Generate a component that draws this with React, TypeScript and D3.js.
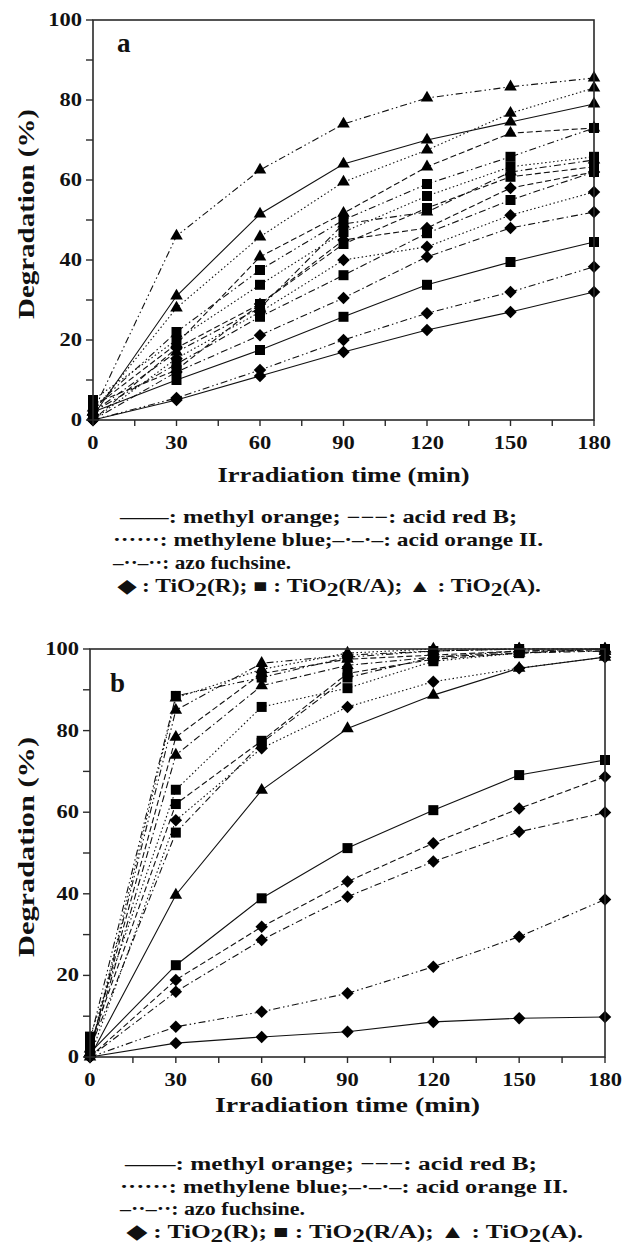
import React from "react";
import * as d3 from "d3";

// ---------- data ----------
const times = [0, 30, 60, 90, 120, 150, 180];
const xTicksMajor = [0, 30, 60, 90, 120, 150, 180];
const xTicksAll = [0, 15, 30, 45, 60, 75, 90, 105, 120, 135, 150, 165, 180];
const yTicksMajor = [0, 20, 40, 60, 80, 100];
const yTicksAll = [0, 10, 20, 30, 40, 50, 60, 70, 80, 90, 100];
const dyes = ["methyl orange", "acid red B", "methylene blue", "acid orange II", "azo fuchsine"];
const catalysts = ["R", "R/A", "A"];

// panel a (degradation %, at times above)
const aMethylOrangeR = [0, 5, 11, 17, 22.5, 27, 32];
const aMethylOrangeRA = [2, 10, 17.5, 25.8, 33.8, 39.5, 44.5];
const aMethylOrangeA = [1, 31, 51.5, 64, 70, 74.5, 79];
const aAcidRedBR = [0, 18, 29, 45, 48, 58, 62];
const aAcidRedBRA = [4, 12.5, 29, 44, 53, 60.8, 63.3];
const aAcidRedBA = [3, 19, 40.8, 51.7, 63.3, 71.7, 73];
const aMethyleneBlueR = [0, 15.4, 27, 40, 43.3, 51.2, 57];
const aMethyleneBlueRA = [5, 20, 33.8, 47, 56, 63.3, 65.8];
const aMethyleneBlueA = [2, 28, 45.8, 59.5, 67.5, 76.7, 83];
const aAcidOrangeR = [0, 12, 21.2, 30.5, 40.8, 48, 52];
const aAcidOrangeRA = [2, 14, 25.8, 36.2, 46.7, 55, 62];
const aAcidOrangeA = [2, 17, 28, 49, 52, 62, 65];
const aAzoFuchsineR = [0, 5.5, 12.5, 20, 26.7, 32, 38.3];
const aAzoFuchsineRA = [3, 22, 37.5, 50, 59, 65.8, 73];
const aAzoFuchsineA = [2, 46, 62.5, 74, 80.5, 83.3, 85.5];

// panel b
const bMethylOrangeR = [0, 3.4, 4.9, 6.2, 8.6, 9.5, 9.8];
const bMethylOrangeRA = [1, 22.5, 38.9, 51.2, 60.5, 69.1, 72.8];
const bMethylOrangeA = [0, 39.7, 65.4, 80.5, 88.7, 95.3, 98];
const bAcidRedBR = [0, 18.9, 31.9, 43, 52.4, 60.9, 68.7];
const bAcidRedBRA = [3, 62, 77.5, 94, 97.5, 99, 100];
const bAcidRedBA = [2, 78.4, 94, 97.5, 98.5, 99.5, 99.5];
const bMethyleneBlueR = [0, 58, 75.7, 85.8, 92, 95.3, 98];
const bMethyleneBlueRA = [5, 65.5, 85.8, 90.4, 97, 99, 100];
const bMethyleneBlueA = [1, 88, 95, 99, 100, 100, 100];
const bAcidOrangeR = [0, 16, 28.7, 39.3, 47.9, 55.2, 59.9];
const bAcidOrangeRA = [2, 55, 77, 93, 98, 99.5, 100];
const bAcidOrangeA = [1, 74, 91, 96, 98, 99, 99.5];
const bAzoFuchsineR = [0, 7.4, 11.1, 15.6, 22.1, 29.5, 38.6];
const bAzoFuchsineRA = [4, 88.5, 93, 98, 99.5, 100, 100];
const bAzoFuchsineA = [1, 85, 96.5, 98.5, 99.5, 100, 100];

const panelAData = [
  [aMethylOrangeR, aMethylOrangeRA, aMethylOrangeA],
  [aAcidRedBR, aAcidRedBRA, aAcidRedBA],
  [aMethyleneBlueR, aMethyleneBlueRA, aMethyleneBlueA],
  [aAcidOrangeR, aAcidOrangeRA, aAcidOrangeA],
  [aAzoFuchsineR, aAzoFuchsineRA, aAzoFuchsineA],
];
const panelBData = [
  [bMethylOrangeR, bMethylOrangeRA, bMethylOrangeA],
  [bAcidRedBR, bAcidRedBRA, bAcidRedBA],
  [bMethyleneBlueR, bMethyleneBlueRA, bMethyleneBlueA],
  [bAcidOrangeR, bAcidOrangeRA, bAcidOrangeA],
  [bAzoFuchsineR, bAzoFuchsineRA, bAzoFuchsineA],
];

// ---------- styles ----------
const FONT = "'Liberation Serif', 'Times New Roman', serif";
const SX = 1.3;
const dashFor: Record<string, string | undefined> = {
  "methyl orange": undefined,
  "acid red B": "6,3",
  "methylene blue": "1.5,2.5",
  "acid orange II": "7,3,1.5,3",
  "azo fuchsine": "7,3,1.5,3,1.5,3",
};
const markerPath: Record<string, string> = {
  R: d3.symbol().type(d3.symbolSquare).size(78)() as string,
  "R/A": d3.symbol().type(d3.symbolSquare).size(100)() as string,
  A: d3.symbol().type(d3.symbolTriangle).size(68)() as string,
};

type Geo = { x0: number; x1: number; yTop: number; yBot: number };

function Panel({ data, geo, letter, letterPos, xTitleY, yTitleX, xTitleLen, yTitleLen }: any) {
  const g: Geo = geo;
  const x = d3.scaleLinear().domain([0, 180]).range([g.x0, g.x1]);
  const y = d3.scaleLinear().domain([0, 100]).range([g.yBot, g.yTop]);
  const line = d3
    .line<number>()
    .x((_, i) => x(times[i]))
    .y((v) => y(v));
  const axisColor = "#2a2a2a";
  return (
    <g>
      {dyes.map((dye, di) =>
        catalysts.map((cat, ci) => (
          <path
            key={`l-${di}-${ci}`}
            d={line(data[di][ci]) as string}
            fill="none"
            stroke="#111"
            strokeWidth={1.1}
            strokeDasharray={dashFor[dye]}
          />
        ))
      )}
      {dyes.map((dye, di) =>
        catalysts.map((cat, ci) =>
          data[di][ci].map((v: number, i: number) => (
            <path
              key={`m-${di}-${ci}-${i}`}
              d={markerPath[cat]}
              transform={`translate(${x(times[i])},${y(v)})${cat === "R" ? " rotate(45)" : ""}`}
              fill="#000"
            />
          ))
        )
      )}
      <rect x={g.x0} y={g.yTop} width={g.x1 - g.x0} height={g.yBot - g.yTop} fill="none" stroke={axisColor} strokeWidth={1.6} />
      {yTicksAll.map((t) => (
        <line key={`yt${t}`} x1={g.x0 - 7} x2={g.x0} y1={y(t)} y2={y(t)} stroke={axisColor} strokeWidth={1.4} />
      ))}
      {yTicksMajor.map((t) => (
        <text
          key={`yl${t}`}
          transform={`translate(${g.x0 - 11},${y(t) + 6}) scale(1.25,1)`}
          textAnchor="end"
          fontFamily={FONT}
          fontWeight="bold"
          fontSize={18}
          fill="#111"
        >
          {t}
        </text>
      ))}
      {xTicksAll.map((t) => (
        <line key={`xt${t}`} x1={x(t)} x2={x(t)} y1={g.yBot} y2={g.yBot + 6} stroke={axisColor} strokeWidth={1.4} />
      ))}
      {xTicksMajor.map((t) => (
        <text
          key={`xl${t}`}
          transform={`translate(${x(t)},${g.yBot + 29}) scale(1.25,1)`}
          textAnchor="middle"
          fontFamily={FONT}
          fontWeight="bold"
          fontSize={18}
          fill="#111"
        >
          {t}
        </text>
      ))}
      <text
        x={(g.x0 + g.x1) / 2}
        y={xTitleY}
        textAnchor="middle"
        fontFamily={FONT}
        fontWeight="bold"
        fontSize={22}
        textLength={xTitleLen}
        lengthAdjust="spacingAndGlyphs"
        fill="#111"
      >
        Irradiation time (min)
      </text>
      <text
        transform={`translate(${yTitleX},${(g.yTop + g.yBot) / 2 - 6}) rotate(-90)`}
        textAnchor="middle"
        fontFamily={FONT}
        fontWeight="bold"
        fontSize={24}
        textLength={yTitleLen}
        lengthAdjust="spacingAndGlyphs"
        fill="#111"
      >
        Degradation (%)
      </text>
      <text x={letterPos[0]} y={letterPos[1]} fontFamily={FONT} fontWeight="bold" fontSize={27} fill="#111">
        {letter}
      </text>
    </g>
  );
}

function LT({ x, y, size, len, children }: any) {
  return (
    <text
      transform={`translate(${x},${y}) scale(${SX},1)`}
      fontFamily={FONT}
      fontWeight="bold"
      fontSize={size}
      fill="#111"
      textLength={len ? len / SX : undefined}
      lengthAdjust={len ? "spacingAndGlyphs" : undefined}
    >
      {children}
    </text>
  );
}

function Legend({ xs, ys, size, lens }: any) {
  return (
    <g>
      <LT x={xs[0]} y={ys[0]} size={size} len={lens[0]}>——: methyl orange; −−−: acid red B;</LT>
      <LT x={xs[1]} y={ys[1]} size={size} len={lens[1]}>······: methylene blue;–·–·–: acid orange II.</LT>
      <LT x={xs[2]} y={ys[2]} size={size} len={lens[2]}>–··–··: azo fuchsine.</LT>
      <LT x={xs[3]} y={ys[3]} size={size} len={lens[3]}>
        <tspan>◆ : TiO</tspan>
        <tspan dy={4}>2</tspan>
        <tspan dy={-4}>(R); ■ : TiO</tspan>
        <tspan dy={4}>2</tspan>
        <tspan dy={-4}>(R/A); ▲ : TiO</tspan>
        <tspan dy={4}>2</tspan>
        <tspan dy={-4}>(A).</tspan>
      </LT>
    </g>
  );
}

export default function App() {
  return (
    <svg width={622} height={1249} style={{ position: "absolute", left: 0, top: 0, background: "#fff" }}>
      <rect x={0} y={0} width={622} height={1249} fill="#fff" />
      <Panel
        data={panelAData}
        geo={{ x0: 93, x1: 594, yTop: 20, yBot: 420 }}
        letter="a"
        letterPos={[117, 52]}
        xTitleY={482}
        yTitleX={34}
        xTitleLen={252}
        yTitleLen={210}
      />
      <Legend xs={[120, 113, 113, 118]} ys={[523, 546, 569, 592]} size={18} lens={[397, 430, 178, 423]} />
      <Panel
        data={panelBData}
        geo={{ x0: 90, x1: 605, yTop: 649, yBot: 1057 }}
        letter="b"
        letterPos={[110, 692]}
        xTitleY={1112}
        yTitleX={34}
        xTitleLen={265}
        yTitleLen={220}
      />
      <Legend xs={[125, 120, 120, 127]} ys={[1170, 1193, 1215, 1238]} size={18.7} lens={[412, 448, 185, 456]} />
    </svg>
  );
}
